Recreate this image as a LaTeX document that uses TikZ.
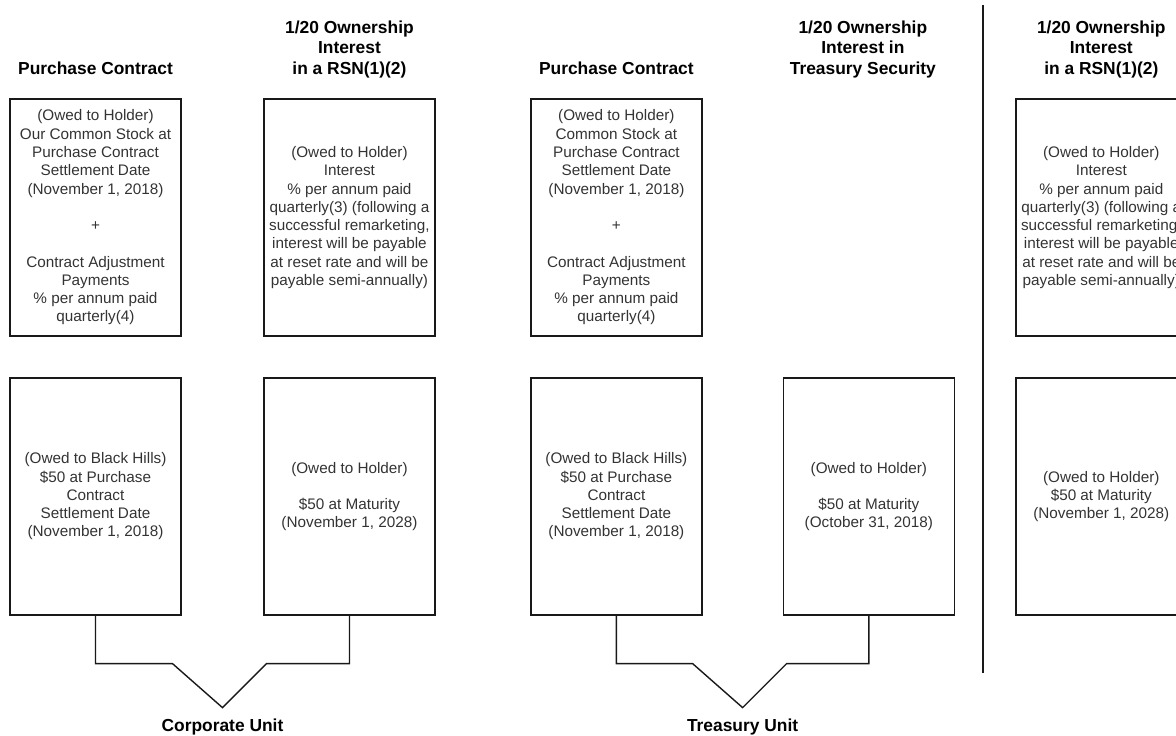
\documentclass[tikz,border=0pt]{standalone}
\usepackage{fontspec}
\setmainfont{Liberation Sans}
\usetikzlibrary{calc}
\tikzset{
    x=0.02cm, y=-0.02cm, % one unit is one pixel, y runs downwards
    every node/.style={align=center},
    box/.style={draw=black!90, line width=0.8pt, minimum width=3.42cm, minimum height=4.74cm, inner sep=0pt, text=black!80, font=\fontsize{8.7}{10.4}\selectfont}, % the boxes
    head/.style={font=\bfseries\fontsize{9.9}{11.6}\selectfont}, % the titles over the boxes
    unit/.style={font=\bfseries\fontsize{9.9}{11.6}\selectfont}, % the names under the brackets
    link/.style={draw=black!90, line width=0.8pt}, % the brackets
    }

\begin{document}
\begin{tikzpicture}
    \useasboundingbox (0,0) rectangle (1176,735);
    \clip (0,0) rectangle (1176,735);

    \node[box] at (95.5,217.5) (PCTOP) {(Owed to Holder)\\Our Common Stock at\\Purchase Contract\\Settlement Date\\(November 1, 2018)\\[10.4pt]+\\[10.4pt]Contract Adjustment\\Payments\\\% per annum paid\\quarterly(4)};
    \node[box] at ([xshift=5.08cm]PCTOP) (RSNTOP) {(Owed to Holder)\\Interest\\\% per annum paid\\quarterly(3) (following a\\successful remarketing,\\interest will be payable\\at reset rate and will be\\payable semi-annually)};
    \node[box] at ([xshift=10.42cm]PCTOP) (TPCTOP) {(Owed to Holder)\\Common Stock at\\Purchase Contract\\Settlement Date\\(November 1, 2018)\\[10.4pt]+\\[10.4pt]Contract Adjustment\\Payments\\\% per annum paid\\quarterly(4)};
    \node[box] at ([xshift=20.12cm]PCTOP) (RSNTOPB) {(Owed to Holder)\\Interest\\\% per annum paid\\quarterly(3) (following a\\successful remarketing,\\interest will be payable\\at reset rate and will be\\payable semi-annually)};

    \node[box] at ([yshift=-5.58cm]PCTOP) (PCBOT) {(Owed to Black Hills)\\\$50 at Purchase\\Contract\\Settlement Date\\(November 1, 2018)};
    \node[box] at ([yshift=-5.58cm]RSNTOP) (RSNBOT) {(Owed to Holder)\\[10.4pt]\$50 at Maturity\\(November 1, 2028)};
    \node[box] at ([yshift=-5.58cm]TPCTOP) (TPCBOT) {(Owed to Black Hills)\\\$50 at Purchase\\Contract\\Settlement Date\\(November 1, 2018)};
    \node[box] at ([xshift=5.05cm]TPCBOT) (TSECBOT) {(Owed to Holder)\\[10.4pt]\$50 at Maturity\\(October 31, 2018)};
    \node[box] at ([yshift=-5.58cm]RSNTOPB) (RSNBOTB) {(Owed to Holder)\\\$50 at Maturity\\(November 1, 2028)};

    \node[head] at ([yshift=0.6cm]PCTOP.north) (PCHEAD) {Purchase Contract};
    \node[head] at ([yshift=0.98cm]RSNTOP.north) (RSNHEAD) {1/20 Ownership\\Interest\\in a RSN(1)(2)};
    \node[head] at ([yshift=0.6cm]TPCTOP.north) (TPCHEAD) {Purchase Contract};
    \node[head] at ([xshift=-0.12cm,yshift=6.56cm]TSECBOT.north) (TSECHEAD) {1/20 Ownership\\Interest in\\Treasury Security};
    \node[head] at ([yshift=0.98cm]RSNTOPB.north) (RSNHEADB) {1/20 Ownership\\Interest\\in a RSN(1)(2)};

    % brackets under the units
    \coordinate (CORPTIP) at ([yshift=-1.84cm]$(PCBOT.south)!0.5!(RSNBOT.south)$);
    \coordinate (CORPL) at ([xshift=-1cm,yshift=0.88cm]CORPTIP);
    \coordinate (CORPR) at ([xshift=0.88cm,yshift=0.88cm]CORPTIP);
    \draw[link] (PCBOT.south) |- (CORPL) -- (CORPTIP) -- (CORPR) -| (RSNBOT.south);
    \node[unit] at ([yshift=-0.38cm]CORPTIP) (CORP) {Corporate Unit};

    \coordinate (TREASTIP) at ([yshift=-1.84cm]$(TPCBOT.south)!0.5!(TSECBOT.south)$);
    \coordinate (TREASL) at ([xshift=-1cm,yshift=0.88cm]TREASTIP);
    \coordinate (TREASR) at ([xshift=0.88cm,yshift=0.88cm]TREASTIP);
    \draw[link] (TPCBOT.south) |- (TREASL) -- (TREASTIP) -- (TREASR) -| (TSECBOT.south);
    \node[unit] at ([yshift=-0.38cm]TREASTIP) (TREAS) {Treasury Unit};

    % divider
    \coordinate (DIVTOP) at (983,5);
    \coordinate (DIVBOT) at (983,673);
    \draw[link, line width=1pt] (DIVTOP) -- (DIVBOT);
\end{tikzpicture}
\end{document}
